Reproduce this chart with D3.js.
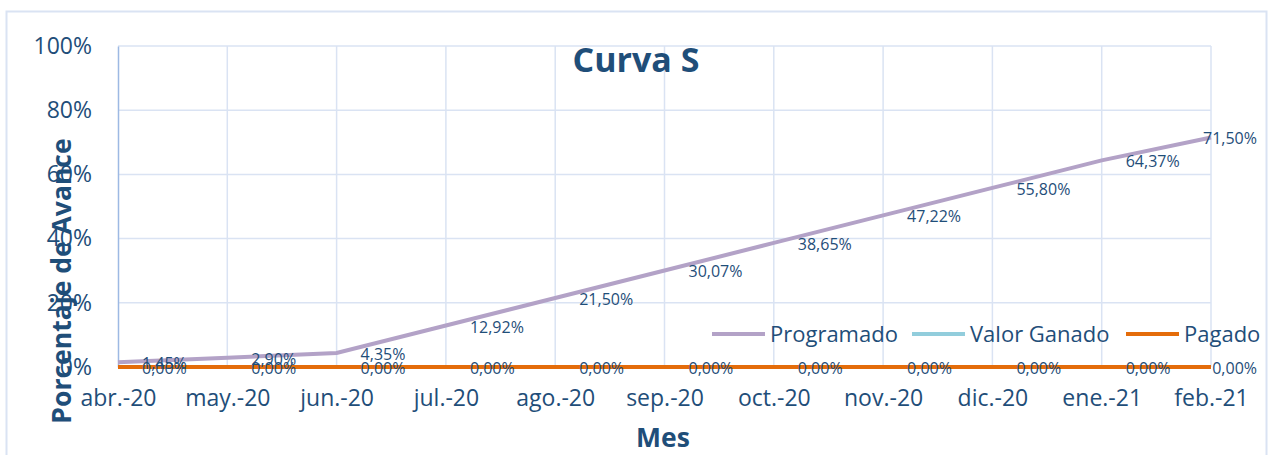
<!DOCTYPE html>
<html>
<head>
<meta charset="utf-8">
<script src="https://cdn.jsdelivr.net/npm/d3@7"></script>
<style>
  body { margin: 0; background: #fff; }
  svg { display: block; font-family: "Open Sans", sans-serif; }
</style>
</head>
<body>
<div id="chart"></div>
<script>
// data
const months = ["abr.-20", "may.-20", "jun.-20", "jul.-20", "ago.-20", "sep.-20",
  "oct.-20", "nov.-20", "dic.-20", "ene.-21", "feb.-21"];
const programado = [1.45, 2.90, 4.35, 12.92, 21.50, 30.07, 38.65, 47.22, 55.80, 64.37, 71.50];
const valorGanado = []; // serie sin datos
const pagado = [0, 0, 0, 0, 0, 0, 0, 0, 0, 0, 0];
const yTicks = [0, 20, 40, 60, 80, 100];

const width = 1275;
const height = 455;
const marginTop = 46;
const marginRight = 64;
const marginBottom = 88;
const marginLeft = 118;
const textColor = "#1F4E79";

const svg = d3.create("svg")
  .attr("width", width)
  .attr("height", height)
  .attr("viewBox", [0, 0, width, height]);
// attach now so text widths can be measured
document.getElementById("chart").appendChild(svg.node());

// outer chart border
svg.append("rect")
  .attr("x", 6.5).attr("y", 11.5)
  .attr("width", 1260).attr("height", 460)
  .attr("fill", "none")
  .attr("stroke", "#DAE3F3")
  .attr("stroke-width", 2);

const x = d3.scalePoint()
  .domain(months)
  .range([marginLeft, width - marginRight]);

const y = d3.scaleLinear()
  .domain([0, 100])
  .range([height - marginBottom, marginTop]);

// horizontal gridlines
svg.append("g")
  .selectAll("line")
  .data(yTicks)
  .join("line")
  .attr("x1", marginLeft).attr("x2", width - marginRight)
  .attr("y1", (d) => y(d)).attr("y2", (d) => y(d))
  .attr("stroke", "#DAE3F3")
  .attr("stroke-width", 1.5);

// vertical gridlines
svg.append("g")
  .selectAll("line")
  .data(months.slice(1))
  .join("line")
  .attr("x1", (d) => x(d)).attr("x2", (d) => x(d))
  .attr("y1", marginTop).attr("y2", height - marginBottom)
  .attr("stroke", "#DAE3F3")
  .attr("stroke-width", 1.5);

// y axis
svg.append("g")
  .attr("transform", `translate(${marginLeft},0)`)
  .call(d3.axisLeft(y).tickValues(yTicks).tickFormat((d) => d + "%").tickSize(0).tickPadding(26))
  .call((g) => g.select(".domain").attr("stroke", "#9DB9E3").attr("stroke-width", 1.5))
  .call((g) => g.selectAll("text")
    .attr("fill", textColor)
    .attr("font-size", 23)
    .attr("font-family", "Open Sans"));

// x axis
svg.append("g")
  .attr("transform", `translate(0,${height - marginBottom})`)
  .call(d3.axisBottom(x).tickSize(0).tickPadding(23))
  .call((g) => g.select(".domain").remove())
  .call((g) => g.selectAll("text")
    .attr("fill", textColor)
    .attr("font-size", 23)
    .attr("font-family", "Open Sans"));

// title
svg.append("text")
  .attr("x", 636).attr("y", 72)
  .attr("text-anchor", "middle")
  .attr("fill", textColor)
  .attr("font-size", 34)
  .attr("font-weight", "bold")
  .text("Curva S");

// axis titles
svg.append("text")
  .attr("transform", "translate(71,281) rotate(-90)")
  .attr("text-anchor", "middle")
  .attr("fill", textColor)
  .attr("font-size", 26.5)
  .attr("font-weight", "bold")
  .text("Porcentaje de Avance");

svg.append("text")
  .attr("x", 663).attr("y", 447)
  .attr("text-anchor", "middle")
  .attr("fill", textColor)
  .attr("font-size", 26.5)
  .attr("font-weight", "bold")
  .text("Mes");

const series = [
  { name: "Programado", values: programado, color: "#B3A2C7" },
  { name: "Valor Ganado", values: valorGanado, color: "#92CDDC" },
  { name: "Pagado", values: pagado, color: "#E46C0A" },
];

const line = d3.line()
  .x((d, i) => x(months[i]))
  .y((d) => y(d));

for (const s of series) {
  if (!s.values.length) continue;
  svg.append("path")
    .datum(s.values)
    .attr("fill", "none")
    .attr("stroke", s.color)
    .attr("stroke-width", 4)
    .attr("d", line);
}

// data labels (right of point, kept inside the chart border)
const fmt = (v) => v.toFixed(2).replace(".", ",") + "%";
const labelLimit = 1257;
for (const s of series) {
  if (!s.values.length) continue;
  svg.append("g")
    .selectAll("text")
    .data(s.values)
    .join("text")
    .attr("x", (d, i) => x(months[i]) + 24)
    .attr("y", (d) => y(d) + 7)
    .attr("fill", textColor)
    .attr("font-size", 16)
    .text((d) => fmt(d))
    .each(function () {
      const w = this.getComputedTextLength();
      const x0 = +this.getAttribute("x");
      if (x0 + w > labelLimit) this.setAttribute("x", labelLimit - w);
    });
}

// legend
const legendX = [712, 912, 1126];
const legend = svg.append("g")
  .selectAll("g")
  .data(series)
  .join("g")
  .attr("transform", (d, i) => `translate(${legendX[i]},334)`);
legend.append("line")
  .attr("x1", 0).attr("x2", 53)
  .attr("stroke", (d) => d.color)
  .attr("stroke-width", 4);
legend.append("text")
  .attr("x", 58).attr("y", 8)
  .attr("fill", textColor)
  .attr("font-size", 22)
  .text((d) => d.name);
</script>
</body>
</html>
